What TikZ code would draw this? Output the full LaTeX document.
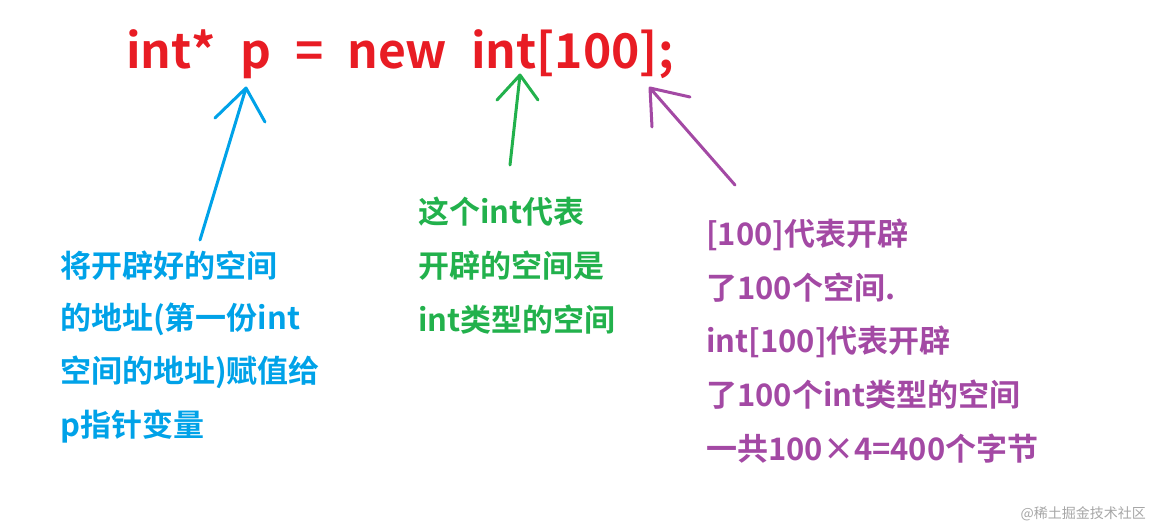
\documentclass[tikz,border=0pt]{standalone}
\usepackage{fontspec}
\setmainfont{Noto Sans CJK SC}[BoldFont={Noto Sans CJK SC Bold}]
\definecolor{cred}{RGB}{232,28,36}
\definecolor{cblue}{RGB}{0,162,232}
\definecolor{cgreen}{RGB}{34,177,76}
\definecolor{cpurple}{RGB}{163,73,164}
\tikzset{lbl/.style={anchor=west,font=\bfseries\fontsize{31}{34}\selectfont,inner sep=0},
 arr/.style={line width=3pt,line cap=round,line join=round}}
\begin{document}
\begin{tikzpicture}[x=1pt,y=-1pt]
\useasboundingbox (0,0) rectangle (1152,530);
\node[anchor=base west,inner sep=0,text=cred,font=\bfseries\fontsize{48}{52}\selectfont] (code) at (126,68) {int*\hspace{0.5em}p\hspace{0.5em}=\hspace{0.5em}new\hspace{0.5em}int[100];};
% blue
\coordinate (b1) at (200,240); \coordinate (b2) at (246,88);
\draw[arr,cblue] (b1) -- (b2) (215,118) -- (b2) -- (265,122);
\foreach \t [count=\i] in {将开辟好的空间,的地址(第一份int,空间的地址)赋值给,p指针变量}
  \node[lbl,text=cblue] (bl\i) at (60,212+53.5*\i) {\t};
% green
\coordinate (g1) at (510,165); \coordinate (g2) at (520,75);
\draw[arr,cgreen] (g1) -- (g2) (497,100) -- (g2) -- (538,100);
\foreach \t [count=\i] in {这个int代表,开辟的空间是,int类型的空间}
  \node[lbl,text=cgreen] (gl\i) at (418,158+54*\i) {\t};
% purple
\coordinate (p1) at (735,185); \coordinate (p2) at (650,88);
\draw[arr,cpurple] (p1) -- (p2) (652,127) -- (p2) -- (690,97);
\foreach \t [count=\i] in {[100]代表开辟,了100个空间.,int[100]代表开辟,了100个int类型的空间,一共100×4=400个字节}
  \node[lbl,text=cpurple] (pl\i) at (706,181+53.5*\i) {\t};
\node[anchor=east,text=gray!70,font=\fontsize{14}{16}\selectfont,inner sep=0] (wm) at (1146,514) {@稀土掘金技术社区};
\end{tikzpicture}
\end{document}
